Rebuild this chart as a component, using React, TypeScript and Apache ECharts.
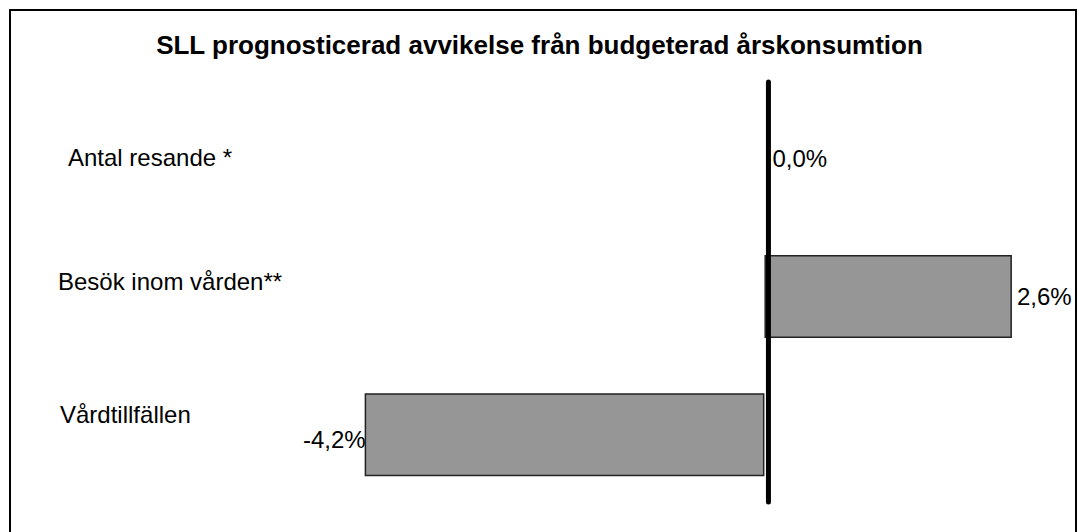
import React, { useEffect, useRef } from "react";
import * as echarts from "echarts";

const TITLE = "SLL prognosticerad avvikelse från budgeterad årskonsumtion";
const categories = ["Antal resande *", "Besök inom vården**", "Vårdtillfällen"];
const values = [0.0, 2.6, -4.2];
const labelKeys = ["a", "b", "c"];

const FONT = "'Liberation Sans', Arial, Helvetica, sans-serif";

export default function App() {
  const ref = useRef<HTMLDivElement>(null);
  useEffect(() => {
    if (!ref.current) return;
    const chart = echarts.init(ref.current, undefined, { renderer: "svg" });
    const fmt = (v: number) => v.toFixed(1).replace(".", ",") + "%";
    const option: any = {
      animation: false,
      backgroundColor: "#ffffff",
      title: {
        text: TITLE,
        left: "center",
        top: 27,
        textStyle: { fontFamily: FONT, fontSize: 26, fontWeight: "bold", color: "#000" },
      },
      grid: { left: 288.5, right: 29, top: 89, bottom: 28 },
      xAxis: {
        type: "value",
        min: -5,
        max: 3,
        show: false,
      },
      yAxis: {
        type: "category",
        inverse: true,
        data: categories,
        axisLine: { show: false, onZero: false },
        axisTick: { show: false },
        splitLine: { show: false },
        axisLabel: {
          align: "left",
          margin: 230.5,
          fontFamily: FONT,
          fontSize: 24,
          color: "#000",
          formatter: (v: string, i: number) => `{${labelKeys[i]}|${v}}`,
          rich: {
            a: { fontFamily: FONT, fontSize: 24, color: "#000", padding: [0, 0, 2, 10] },
            b: { fontFamily: FONT, fontSize: 24, color: "#000", padding: [0, 0, 30, 0] },
            c: { fontFamily: FONT, fontSize: 24, color: "#000", padding: [0, 0, 40, 2] },
          },
        },
      },
      series: [
        {
          type: "bar",
          barWidth: 83,
          itemStyle: { color: "#969696", borderColor: "#222", borderWidth: 1.5 },
          label: {
            show: true,
            fontFamily: FONT,
            fontSize: 24,
            color: "#000",
            formatter: (p: any) => fmt(p.value),
          },
          data: values.map((v) => ({
            value: v,
            itemStyle: v === 0 ? { borderWidth: 0 } : undefined,
            label:
              v < 0
                ? { position: "left", distance: -1, offset: [0, 5] }
                : { position: "right", distance: v === 0 ? 8 : 5 },
          })),
        },
      ],
    };
    chart.setOption(option);
    const x0 = chart.convertToPixel({ xAxisIndex: 0 }, 0) as number;
    chart.setOption({
      graphic: [
        {
          type: "rect",
          shape: { x: 10, y: 10, width: 1066, height: 560 },
          style: { fill: "none", stroke: "#000", lineWidth: 2 },
          silent: true,
        },
        {
          type: "line",
          shape: { x1: x0 + 4, y1: 82, x2: x0 + 4, y2: 502 },
          style: { stroke: "#000", lineWidth: 5, lineCap: "round" },
          z: 10,
          silent: true,
        },
      ],
    });
    return () => chart.dispose();
  }, []);
  return (
    <div
      ref={ref}
      style={{ position: "absolute", left: 0, top: 0, width: 1079, height: 532 }}
    />
  );
}
